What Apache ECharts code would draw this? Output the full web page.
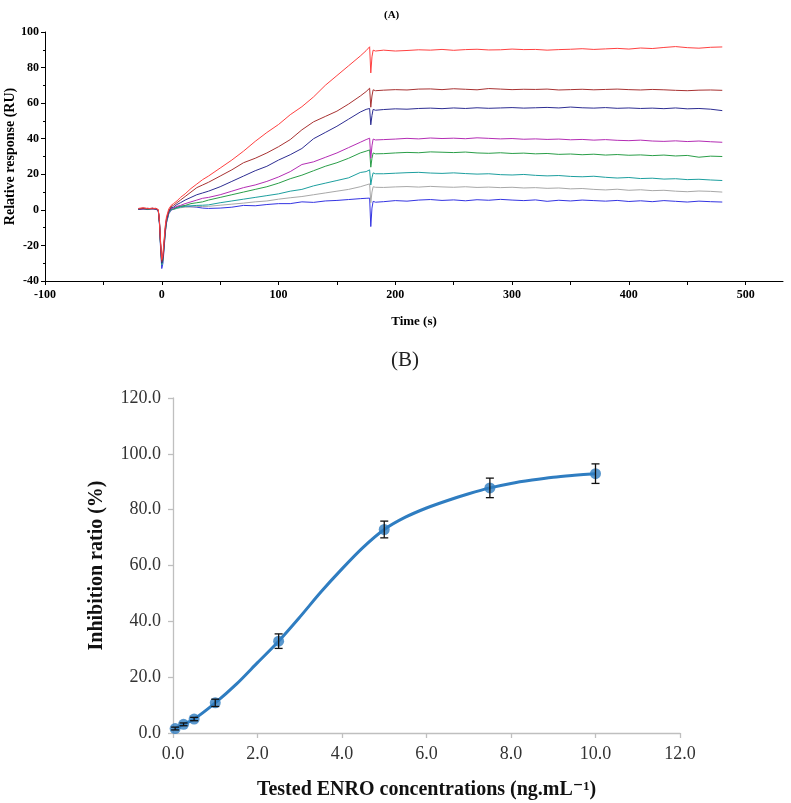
<!DOCTYPE html>
<html>
<head>
<meta charset="utf-8">
<script src="https://cdn.jsdelivr.net/npm/echarts@6/dist/echarts.min.js"></script>
<style>
html,body{margin:0;padding:0;background:#fff;}
#c{width:791px;height:803px;}
</style>
</head>
<body>
<div id="c"></div>
<script>
// ---------- Panel A : sensorgram ----------
const timeA = [
  -20,-16,-12,-8,-5,-3,-2,-1,0,1,2,3,4,6,8,
  10,13,16,20,25,30,35,40,50,60,70,80,90,100,110,120,130,140,150,160,170,175,
  178,179,180,181,183,
  190,200,210,220,230,240,250,260,270,280,290,300,310,320,330,340,350,360,370,380,390,400,410,420,430,440,450,460,470,480
];
const curveRed = [
  0.8,1.2,0.6,1.0,0.7,0.2,-6,-18,-28,-25,-17,-9,-4,0.5,2.5,
  3.5,5,7,9,12,14.5,17,19,23.5,28,33,38.5,43.5,48,53.5,58,63.5,70,75.5,81,86.5,89.5,
  91.7,77,86,89.8,89.3,
  89.8,89.3,89.6,90.0,89.8,90.2,89.7,90.1,90.3,89.9,90.0,90.4,90.1,90.2,89.8,90.1,90.3,90.6,90.2,90.5,90.8,90.4,91.0,90.7,91.3,91.8,91.2,90.9,91.4,91.6
];
const curveDarkRed = [
  0.5,1.0,0.8,0.6,0.9,0,-7,-19,-29,-26,-18,-10,-5,-0.5,1.8,
  2.5,4,5.5,7.5,10,12.5,14,15.5,19,22.5,26.5,29,32,35.5,39.5,45,49.5,52.5,55.5,59.5,64,66.5,
  68.4,57.7,64,67.5,67,
  67.3,67.6,67.4,67.9,68.0,67.6,68.1,67.8,67.5,68.2,67.9,67.6,67.8,67.7,67.9,67.4,67.6,67.8,67.5,67.7,67.9,67.6,67.4,67.7,67.5,67.2,67.0,67.3,67.4,67.2
];
const curveNavy = [
  0.3,0.8,0.5,0.9,0.4,-0.2,-7,-20,-30,-27,-19,-11,-6,-1,1.2,
  1.5,3,4,5.5,7,8.5,9.5,10.5,13,16,19,22,24.5,28,31,34.5,40,43.5,47,51,55,56.5,
  57,47.8,53,56.5,56,
  56.4,56.8,56.6,57.0,57.2,56.9,57.3,57.0,57.4,57.1,57.3,57.5,57.2,57.4,57.6,57.3,57.8,57.4,57.2,57.5,57.1,57.3,57.0,57.2,56.9,57.3,56.8,57.0,56.6,55.8
];
const curveMagenta = [
  0.6,0.4,0.9,0.5,0.6,-0.3,-6,-19,-29,-27,-19,-11,-6,-1.2,0.8,
  1,2,2.5,3.5,4.5,5.5,6.5,7,8.5,10.5,12.5,14,16,18.5,21.5,25.5,27,29.5,32,35,38,39.5,
  40.3,29,36,39.8,39.3,
  39.5,39.8,40.2,39.9,40.4,40.1,40.3,40.0,40.5,40.2,39.9,40.1,39.7,39.9,39.6,39.8,39.4,39.6,39.2,39.5,39.1,38.9,39.2,38.7,38.5,38.8,38.4,38.7,38.3,38.0
];
const curveGreen = [
  0.4,0.7,0.3,0.8,0.5,-0.1,-7,-20,-30,-28,-20,-12,-6.5,-1.5,0.5,
  0.5,1.5,2,2.5,3.5,4,4.5,5.5,7,8.5,10,11.5,13,15,17.5,19.5,22,24.5,26.5,29,32,33,
  33.7,24,29,32,31.5,
  31.6,32.0,32.3,32.1,32.6,32.4,32.2,32.5,32.0,31.8,32.1,31.7,31.9,31.5,31.7,31.2,31.4,31.0,31.3,30.8,31.1,30.7,30.9,30.5,30.8,30.3,30.6,29.6,30.2,30.0
];
const curveTeal = [
  0.2,0.6,0.4,0.7,0.3,-0.4,-7,-21,-31,-28,-20,-12,-7,-1.8,0.2,
  0.3,1,1.5,2,2.3,2.5,2.6,2.8,4,5,6,7,8,9,10.5,11.5,13.5,15,16.5,18,21,21.5,
  22.5,14,18,20.8,20.3,
  20.3,20.6,20.9,21.1,20.7,20.5,20.8,20.4,20.1,20.3,19.8,19.6,19.9,19.4,19.1,19.3,18.8,18.6,18.9,18.3,17.9,18.2,17.6,17.8,17.3,17.5,17.0,17.2,16.8,16.5
];
const curveGray = [
  0.5,0.3,0.6,0.4,0.5,-0.2,-6,-20,-31,-29,-21,-13,-7,-2,0,
  0.2,0.8,1.2,1.5,1.6,1.8,1.9,2,2.6,3.2,3.8,4.5,5,6,6.8,7.5,8.5,9.5,10.5,11.5,13,14,
  14.6,4,10,13,12.7,
  12.6,12.9,13.1,12.8,13.2,12.9,12.7,13.0,12.6,12.8,12.5,12.7,12.3,12.5,12.1,12.3,11.8,12.0,11.5,11.2,11.6,11.0,11.3,10.8,11.0,10.5,10.2,10.6,10.4,10.0
];
const curveBlue = [
  0.3,0.5,0.2,0.6,0.4,-0.5,-8,-22,-33,-30,-22,-13,-7.5,-2.2,-0.3,
  0.5,1.5,2,2.2,1.8,1.5,1,0.8,1,1.5,2.5,2.3,3,3.5,3.5,4.5,4.2,5,5.3,5.8,6.3,6.5,
  6.6,-9.4,1,4.8,4.3,
  4.6,5.2,4.9,5.5,5.8,5.3,5.6,5.1,5.7,5.4,5.9,5.5,5.2,5.6,4.8,5.4,5.0,5.5,5.2,4.9,5.3,4.7,5.1,4.6,5.2,4.8,4.4,4.9,4.6,4.4
];
const curvesA = [curveRed, curveDarkRed, curveNavy, curveMagenta, curveGreen, curveTeal, curveGray, curveBlue];
const colorsA = ['#ff4040','#a83232','#2d2d92','#b42db4','#2a9e48','#1d9f9f','#a8a8a8','#3434e2'];
const xTicksA = [-100,0,100,200,300,400,500];
const yTicksA = [-40,-20,0,20,40,60,80,100];

// ---------- Panel B : inhibition curve ----------
const concB = [0.05, 0.25, 0.5, 1.0, 2.5, 5.0, 7.5, 10.0];
const inhibB = [1.6, 3.1, 5.0, 10.8, 32.9, 72.9, 87.8, 92.9];
const errB = [0.5, 0.5, 0.6, 1.3, 2.6, 3.0, 3.5, 3.5];
// fitted curve
const fitX = [0.05, 0.25, 0.5, 1.0, 1.5, 2.0, 2.5, 3.0, 3.5, 4.0, 4.5, 5.0, 5.5, 6.0, 6.5, 7.0, 7.5, 8.0, 8.5, 9.0, 9.5, 10.0];
const fitY = [1.6, 3.1, 5.0, 10.8, 17.5, 25.2, 32.9, 41.5, 50.5, 58.8, 66.5, 72.9, 77.3, 80.6, 83.3, 85.7, 87.8, 89.4, 90.6, 91.6, 92.3, 92.9];
const xTicksB = [0,2,4,6,8,10,12];
const yTicksB = [0,20,40,60,80,100,120];

const serif = "'Liberation Serif','DejaVu Serif',serif";
const chart = echarts.init(document.getElementById('c'), null, {renderer:'canvas'});

const seriesA = curvesA.map((vals, i) => ({
  type: 'line', xAxisIndex: 0, yAxisIndex: 0,
  data: timeA.map((t, k) => [t, vals[k]]),
  showSymbol: false, symbol: 'none',
  lineStyle: {width: 1, color: colorsA[i]},
  z: 10 - i, silent: true, animation: false
}));

const option = {
  animation: false,
  backgroundColor: '#fff',
  title: [
    {text: '(A)', left: 379, top: 5,
     textStyle: {fontFamily: serif, fontWeight: 'bold', fontSize: 11, color: '#000'}},
    {text: '(B)', left: 386, top: 345,
     textStyle: {fontFamily: serif, fontWeight: 'normal', fontSize: 21, color: '#222'}}
  ],
  grid: [
    {left: 45, top: 32, width: 738, height: 249, outerBoundsMode: 'none', containLabel: false},
    {left: 173, top: 398, width: 507, height: 335, outerBoundsMode: 'none', containLabel: false}
  ],
  xAxis: [
    {type: 'value', gridIndex: 0, min: -100, max: 532,
     name: 'Time (s)', nameLocation: 'middle', nameGap: 34, nameMoveOverlap: false,
     nameTextStyle: {fontFamily: serif, fontWeight: 'bold', fontSize: 13, color: '#000'},
     axisLine: {onZero: false, lineStyle: {color: '#000', width: 1}},
     axisTick: {customValues: [-100,-50,0,50,100,150,200,250,300,350,400,450,500], length: 4, lineStyle: {color: '#000'}},
     axisLabel: {customValues: xTicksA, fontFamily: serif, fontWeight: 'bold', fontSize: 12, color: '#000', margin: 8},
     splitLine: {show: false}},
    {type: 'value', gridIndex: 1, min: 0, max: 12, interval: 2,
     name: 'Tested ENRO concentrations (ng.mL\u207B\u00B9)', nameLocation: 'middle', nameGap: 47, nameMoveOverlap: false,
     nameTextStyle: {fontFamily: serif, fontWeight: 'bold', fontSize: 20, color: '#111'},
     axisLine: {onZero: false, lineStyle: {color: '#bfbfbf', width: 1.3}},
     axisTick: {length: 5, lineStyle: {color: '#bfbfbf', width: 1.3}},
     axisLabel: {fontFamily: serif, fontSize: 18, color: '#333', margin: 12,
       formatter: v => xTicksB.includes(v) ? v.toFixed(1) : ''},
     splitLine: {show: false}}
  ],
  yAxis: [
    {type: 'value', gridIndex: 0, min: -40, max: 100, interval: 20,
     name: 'Relative response (RU)', nameLocation: 'middle', nameGap: 28, nameMoveOverlap: false,
     nameTextStyle: {fontFamily: serif, fontWeight: 'bold', fontSize: 14, color: '#000'},
     axisLine: {onZero: false, lineStyle: {color: '#000', width: 1}},
     axisTick: {length: 4, lineStyle: {color: '#000'}},
     minorTick: {show: true, splitNumber: 2, length: 2, lineStyle: {color: '#000'}},
     axisLabel: {fontFamily: serif, fontWeight: 'bold', fontSize: 12, color: '#000', margin: 6,
       formatter: v => yTicksA.includes(v) ? String(v) : ''},
     splitLine: {show: false}, minorSplitLine: {show: false}},
    {type: 'value', gridIndex: 1, min: 0, max: 120, interval: 20,
     name: 'Inhibition ratio (%)', nameLocation: 'middle', nameGap: 66, nameMoveOverlap: false,
     nameTextStyle: {fontFamily: serif, fontWeight: 'bold', fontSize: 20, color: '#111'},
     axisLine: {onZero: false, lineStyle: {color: '#bfbfbf', width: 1.3}},
     axisTick: {length: 5, lineStyle: {color: '#bfbfbf', width: 1.3}},
     axisLabel: {fontFamily: serif, fontSize: 18, color: '#333', margin: 12,
       formatter: v => yTicksB.includes(v) ? v.toFixed(1) : ''},
     splitLine: {show: false}}
  ],
  series: seriesA.concat([
    {type: 'line', xAxisIndex: 1, yAxisIndex: 1,
     data: fitX.map((c, i) => [c, fitY[i]]),
     smooth: 0.3, showSymbol: false, symbol: 'none',
     lineStyle: {width: 3, color: '#2f7dc1'}, z: 4},
    {type: 'scatter', xAxisIndex: 1, yAxisIndex: 1,
     data: concB.map((c, i) => [c, inhibB[i]]),
     symbol: 'circle', symbolSize: 11,
     itemStyle: {color: '#2f7dc1'}, z: 5},
    {type: 'custom', xAxisIndex: 1, yAxisIndex: 1,
     data: concB.map((c, i) => [c, inhibB[i], errB[i]]),
     renderItem: function (params, api) {
       const x = api.value(0), y = api.value(1), e = api.value(2);
       const top = api.coord([x, y + e]);
       const bot = api.coord([x, y - e]);
       const w = 4;
       const st = {stroke: '#111', lineWidth: 1.3};
       return {type: 'group', children: [
         {type: 'line', shape: {x1: top[0], y1: top[1], x2: bot[0], y2: bot[1]}, style: st},
         {type: 'line', shape: {x1: top[0]-w, y1: top[1], x2: top[0]+w, y2: top[1]}, style: st},
         {type: 'line', shape: {x1: bot[0]-w, y1: bot[1], x2: bot[0]+w, y2: bot[1]}, style: st}
       ]};
     }, z: 10}
  ])
};
chart.setOption(option);
</script>
</body>
</html>
